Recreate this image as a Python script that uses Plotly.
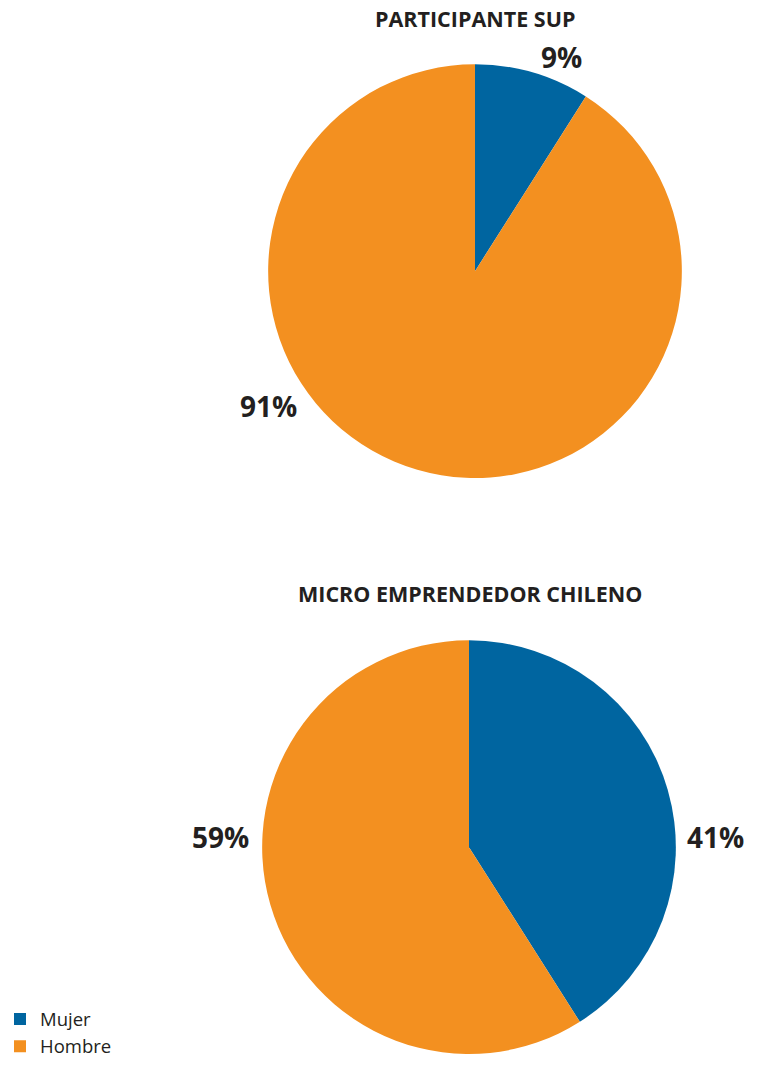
import plotly.graph_objects as go

# Gender split for each group
labels = ["Mujer", "Hombre"]
sup_values = [9, 91]
chile_values = [41, 59]
titles = ["PARTICIPANTE SUP", "MICRO EMPRENDEDOR CHILENO"]
colors = ["#0065A0", "#F39020"]

W, H = 766, 1066


def px(x):
    return x / W


def py(y):
    return 1 - y / H


fig = go.Figure()

fig.add_trace(go.Pie(
    labels=labels, values=sup_values, sort=False, direction="clockwise",
    rotation=0, marker=dict(colors=colors, line=dict(width=0)),
    textinfo="none", hoverinfo="label+percent", showlegend=False,
    domain=dict(x=[px(266.5), px(683.5)], y=[py(483), py(65)]),
))

fig.add_trace(go.Pie(
    labels=labels, values=chile_values, sort=False, direction="clockwise",
    rotation=0, marker=dict(colors=colors, line=dict(width=0)),
    textinfo="none", hoverinfo="label+percent", showlegend=True,
    domain=dict(x=[px(260.5), px(677.5)], y=[py(1065), py(647)]),
))

title_font = dict(family="Open Sans, Noto Sans, sans-serif", size=21.5, color="#231F20")
pct_font = dict(family="Open Sans, Noto Sans, sans-serif", size=28, color="#231F20")

annotations = [
    dict(text=f"<b>{titles[0]}</b>", x=px(475), y=py(19), font=title_font),
    dict(text=f"<b>{titles[1]}</b>", x=px(470), y=py(600), font=title_font),
    dict(text=f"<b>{sup_values[0]}%</b>", x=px(561), y=py(58), font=pct_font),
    dict(text=f"<b>{sup_values[1]}%</b>", x=px(268), y=py(410), font=pct_font),
    dict(text=f"<b>{chile_values[0]}%</b>", x=px(715), y=py(846), font=pct_font),
    dict(text=f"<b>{chile_values[1]}%</b>", x=px(220), y=py(846), font=pct_font),
]
for a in annotations:
    a.update(xref="paper", yref="paper", showarrow=False, xanchor="center", yanchor="middle")

fig.update_layout(
    width=W, height=H,
    margin=dict(l=0, r=0, t=0, b=0),
    paper_bgcolor="white", plot_bgcolor="white",
    annotations=annotations,
    legend=dict(
        x=0, y=py(1011), xanchor="left", yanchor="top",
        font=dict(family="Open Sans, Noto Sans, sans-serif", size=18.5, color="#231F20"),
        traceorder="normal", itemwidth=30, tracegroupgap=0,
        bgcolor="rgba(0,0,0,0)",
    ),
)

fig.write_html("out.html")
